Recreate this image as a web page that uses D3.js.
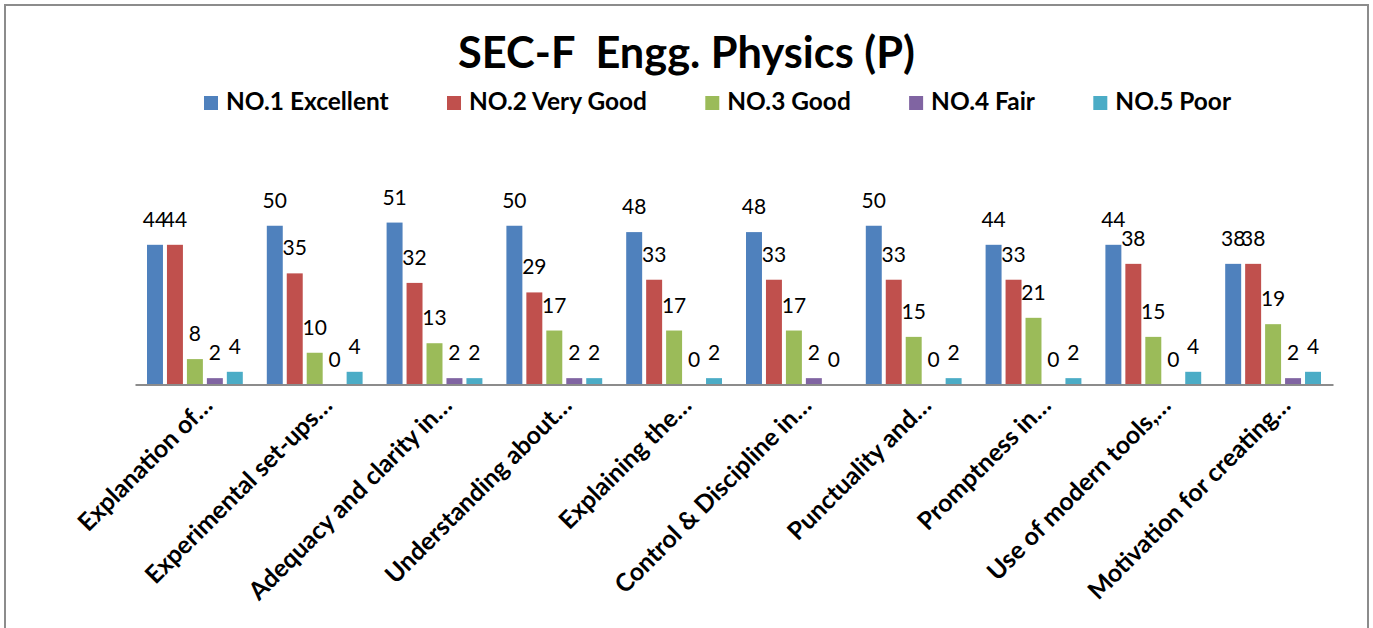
<!DOCTYPE html>
<html>
<head>
<meta charset="utf-8">
<script src="https://cdn.jsdelivr.net/npm/d3@7"></script>
<style>
  html, body { margin: 0; padding: 0; background: #fff; }
  svg { display: block; }
  text { font-family: Lato, "Open Sans", sans-serif; fill: #000; }
</style>
</head>
<body>
<script>
const categories = [
  "Explanation of…",
  "Experimental set-ups…",
  "Adequacy and clarity in…",
  "Understanding about…",
  "Explaining the…",
  "Control & Discipline in…",
  "Punctuality and…",
  "Promptness in…",
  "Use of modern tools,…",
  "Motivation for creating…"
];
const seriesNames = ["NO.1 Excellent", "NO.2 Very Good", "NO.3 Good", "NO.4 Fair", "NO.5 Poor"];
const excellent = [44, 50, 51, 50, 48, 48, 50, 44, 44, 38];
const veryGood  = [44, 35, 32, 29, 33, 33, 33, 33, 38, 38];
const good      = [8, 10, 13, 17, 17, 17, 15, 21, 15, 19];
const fair      = [2, 0, 2, 2, 0, 2, 0, 0, 0, 2];
const poor      = [4, 4, 2, 2, 2, 0, 2, 2, 4, 4];
const seriesValues = [excellent, veryGood, good, fair, poor];
const colors = ["#4F81BD", "#C0504D", "#9BBB59", "#8064A2", "#4BACC6"];
const titleText = "SEC-F  Engg. Physics (P)";

const W = 1373, H = 628;
const svg = d3.select("body").append("svg").attr("width", W).attr("height", H);

// chart border
svg.append("rect").attr("x", 5).attr("y", 5).attr("width", 1363).attr("height", 700)
  .attr("fill", "#fff").attr("stroke", "#8c8c8c").attr("stroke-width", 2);

function fitSize(sel, baseSize, targetWidth) {
  sel.attr("font-size", baseSize);
  const w = sel.node().getComputedTextLength();
  const s = baseSize * targetWidth / w;
  sel.attr("font-size", s);
  return s;
}

// title
const title = svg.append("text").attr("x", 686.5).attr("y", 68)
  .attr("text-anchor", "middle").attr("font-weight", "bold")
  .style("white-space", "pre").attr("xml:space", "preserve")
  .text(titleText);
fitSize(title, 36, 457);

// scales
const x0 = d3.scaleBand().domain(categories).range([135, 1333]).paddingInner(0).paddingOuter(0);
const inner = d3.scaleBand().domain(d3.range(seriesNames.length))
  .range([x0.bandwidth() * 0.0835, x0.bandwidth() * 0.9165]).paddingInner(0.2).paddingOuter(0.1);
const y = d3.scaleLinear().domain([0, 60]).range([384.5, 194]);

// bars
const groups = svg.append("g").selectAll("g").data(categories).join("g")
  .attr("transform", d => `translate(${x0(d)},0)`);

groups.each(function(cat, ci) {
  const g = d3.select(this);
  seriesValues.forEach((vals, si) => {
    const v = vals[ci];
    g.append("rect")
      .attr("x", inner(si)).attr("width", inner.bandwidth())
      .attr("y", y(v)).attr("height", y(0) - y(v))
      .attr("fill", colors[si]);
    g.append("text")
      .attr("x", inner(si) + inner.bandwidth() / 2)
      .attr("y", y(v) - 18)
      .attr("text-anchor", "middle")
      .attr("font-size", 21)
      .text(v);
  });
});

// x axis line
const xAxis = d3.axisBottom(x0).tickSize(0).tickFormat("");
const axG = svg.append("g").attr("transform", `translate(0,${y(0)})`).call(xAxis);
axG.select(".domain").attr("stroke", "#8c8c8c").attr("stroke-width", 2);

// category labels
const labels = svg.append("g").selectAll("text").data(categories).join("text")
  .attr("text-anchor", "end").attr("font-weight", "bold")
  .attr("transform", d => `translate(${x0(d) + x0.bandwidth() / 2 + 19},407) rotate(-45)`)
  .text(d => d);
{
  const first = labels.filter((d, i) => i === 0);
  const s = fitSize(first, 19, 178);
  labels.attr("font-size", s);
}

// legend
const legend = svg.append("g");
const items = legend.selectAll("g").data(seriesNames).join("g");
items.append("rect").attr("width", 14).attr("height", 14).attr("y", 96)
  .attr("fill", (d, i) => colors[i]);
const ltexts = items.append("text").attr("y", 110).attr("font-weight", "bold").text(d => d);
{
  const s = fitSize(ltexts.filter((d, i) => i === 1), 20, 178);
  ltexts.attr("font-size", s);
  const widths = ltexts.nodes().map(n => n.getComputedTextLength());
  const sq = 14, pad = 8;
  const left = 204, right = 1231;
  const gap = ((right - left) - d3.sum(widths) - widths.length * (sq + pad)) / (widths.length - 1);
  let cx = left;
  items.each(function(d, i) {
    d3.select(this).attr("transform", `translate(${cx},0)`);
    d3.select(this).select("text").attr("x", sq + pad);
    cx += sq + pad + widths[i] + gap;
  });
}
</script>
</body>
</html>
